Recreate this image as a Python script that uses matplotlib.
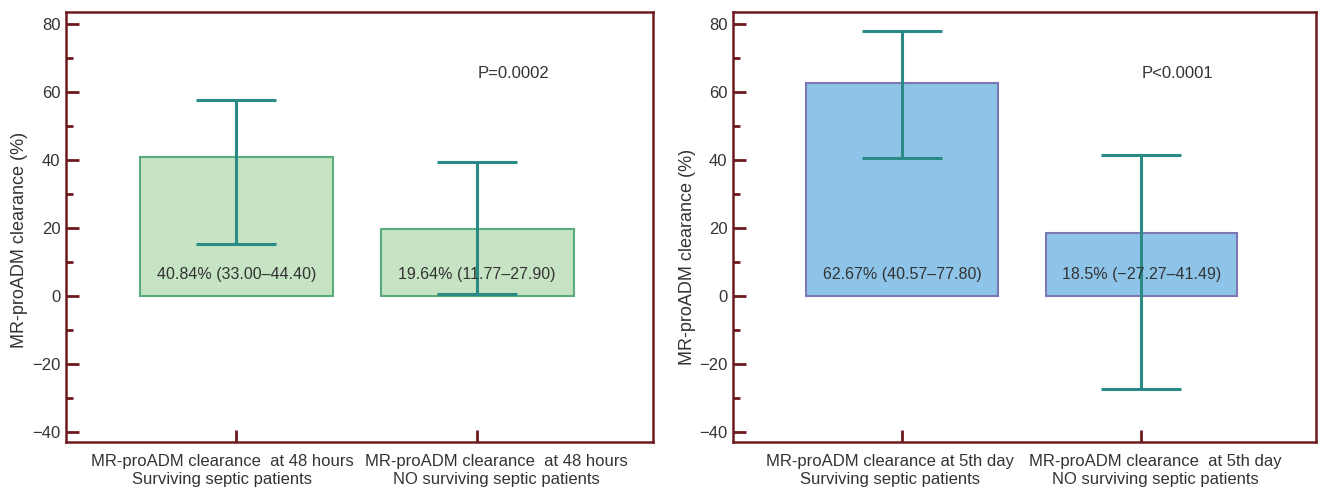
import matplotlib.pyplot as plt
import numpy as np

# Données
groups_48h = ["MR-proADM clearance  at 48 hours\nSurviving septic patients",
              "MR-proADM clearance  at 48 hours\nNO surviving septic patients"]
groups_5d = ["MR-proADM clearance at 5th day\nSurviving septic patients",
             "MR-proADM clearance  at 5th day\nNO surviving septic patients"]
# position des libellés (décalés par rapport aux graduations)
label_x_48h = [-0.06, 1.08]
label_x_5d = [-0.05, 1.06]

median_48h = [40.84, 19.64]
low_48h = [15.3, 0.6]
high_48h = [57.5, 39.4]
labels_48h = ["40.84% (33.00\u201344.40)", "19.64% (11.77\u201327.90)"]
p_48h = "P=0.0002"

median_5d = [62.67, 18.5]
low_5d = [40.57, -27.27]
high_5d = [77.80, 41.49]
labels_5d = ["62.67% (40.57\u201377.80)", "18.5% (\u221227.27\u201341.49)"]
p_5d = "P<0.0001"

spine_col = "#6e1a1e"
err_col = "#2a8a85"
txt_col = "#333333"

plt.rcParams['font.family'] = ['Liberation Sans', 'DejaVu Sans']

fig = plt.figure(figsize=(13.18, 4.90), dpi=100)
ax1 = fig.add_axes([0.0501, 0.098, 0.4454, 0.8776])
ax2 = fig.add_axes([0.5561, 0.098, 0.4423, 0.8776])


def draw_panel(ax, groups, label_x, med, low, high, labels, ptext, fc, ec, ylab_y):
    x = np.arange(len(groups))
    med = np.array(med)
    yerr = [med - np.array(low), np.array(high) - med]
    ax.bar(x, med, width=0.80, color=fc, edgecolor=ec, linewidth=1.5, zorder=1)
    ax.errorbar(x, med, yerr=yerr, fmt="none", ecolor=err_col, elinewidth=2.2,
                capsize=29, capthick=2.2, zorder=2)
    for xi, s in zip(x, labels):
        ax.text(xi, 6.2, s, ha="center", va="center", fontsize=11.5, color=txt_col, zorder=3)
    ax.text(1.15, 65.5, ptext, ha="center", va="center", fontsize=12, color=txt_col)

    ax.set_xlim(-0.707, 1.73)
    ax.set_ylim(-43, 83.5)
    ax.set_xticks(x)
    ax.set_xticklabels([])
    for lx, g in zip(label_x, groups):
        ax.annotate(g, xy=(lx, 0), xycoords=("data", "axes fraction"),
                    xytext=(0, -9), textcoords="offset points", ha="center", va="top",
                    fontsize=12, color=txt_col, linespacing=1.25, annotation_clip=False)
    ax.set_yticks(np.arange(-40, 81, 20))
    ax.set_yticklabels([f"{v}".replace("-", "\u2212") for v in range(-40, 81, 20)],
                       fontsize=12, color=txt_col)
    ax.set_yticks(np.arange(-30, 80, 20), minor=True)
    ax.tick_params(axis="y", which="major", direction="in", length=9, width=2,
                   color=spine_col, pad=4)
    ax.tick_params(axis="y", which="minor", direction="in", length=5, width=2,
                   color=spine_col)
    ax.tick_params(axis="x", direction="in", length=9, width=2, color=spine_col)
    for sp in ax.spines.values():
        sp.set_color(spine_col)
        sp.set_linewidth(1.8)
    ax.set_ylabel("MR-proADM clearance (%)", fontsize=13, color=txt_col)
    ax.yaxis.set_label_coords(-0.064, ylab_y)


draw_panel(ax1, groups_48h, label_x_48h, median_48h, low_48h, high_48h, labels_48h, p_48h,
           "#c6e3c4", "#5cab7c", 0.47)
draw_panel(ax2, groups_5d, label_x_5d, median_5d, low_5d, high_5d, labels_5d, p_5d,
           "#8fc4e9", "#7b78b5", 0.43)

fig.savefig("out.png", dpi=100)
